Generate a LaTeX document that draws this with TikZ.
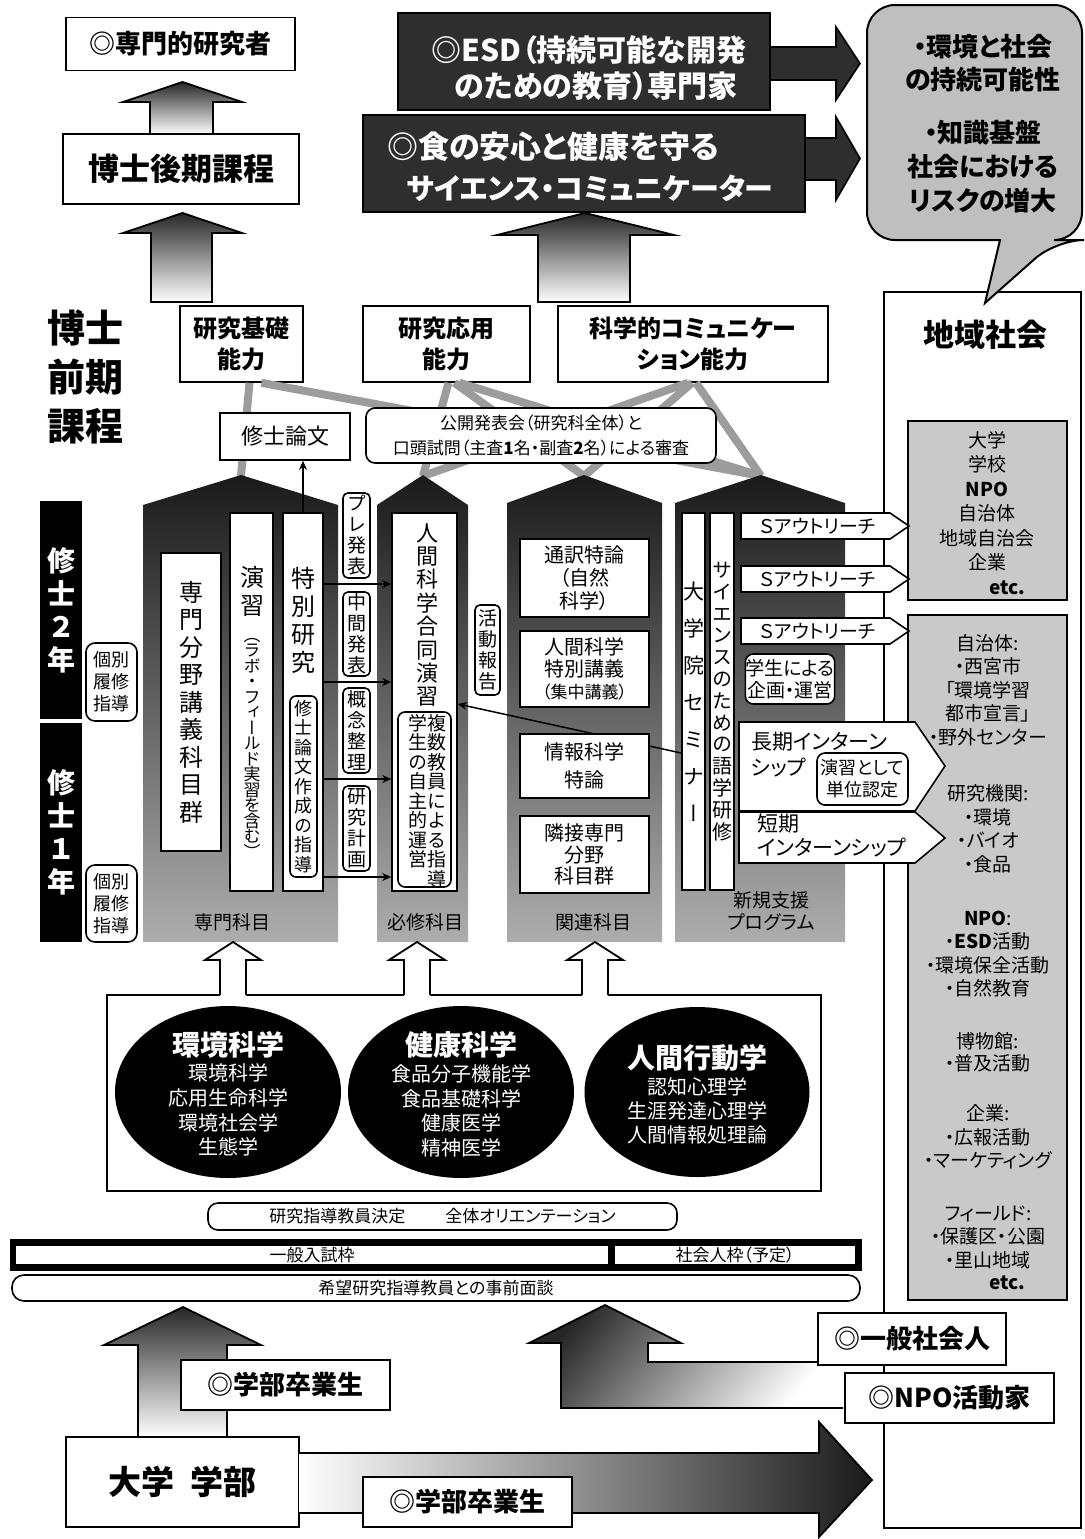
\documentclass[tikz,border=0pt]{standalone}
\usepackage{fontspec}
\setmainfont{Noto Sans CJK JP}[RawFeature=+palt]
\newfontfamily\vf{Noto Sans CJK JP}[RawFeature=+vert]
\usetikzlibrary{arrows.meta,shapes.geometric}
\definecolor{dk}{HTML}{2E2E2E}
\definecolor{bub}{HTML}{BFBFBF}
\definecolor{gb}{HTML}{C9C9C9}
\definecolor{gl}{HTML}{9C9C9C}
\newcommand\fs[2]{\fontsize{#1}{#2}\selectfont}
\makeatletter
\def\vt@end{\vt@end}
\newcommand\vt[2]{\vbox{\baselineskip=#1pt\lineskiplimit=-\maxdimen\lineskip=0pt\vf\vt@loop#2\vt@end}}
\def\vt@loop#1{\ifx#1\vt@end\else\hbox to 1.1em{\hss#1\hss}\expandafter\vt@loop\fi}
\makeatother
\begin{document}
\begin{tikzpicture}[x=1pt,y=-1pt, line join=miter,
 box/.style={draw, line width=1.6pt, fill=white, inner sep=0pt, align=center},
 rbox/.style={box, rounded corners=7pt},
 txt/.style={inner sep=0pt, align=center},
 gline/.style={draw=gl, line width=8pt},
 tarr/.style={-{Stealth[length=9pt,width=8pt]}, line width=1.5pt},
 col/.style={top color=black!90, bottom color=black!32},
 grad/.style={draw=black, line width=1.8pt, top color=black!85, bottom color=white},
 warr/.style={line width=1.8pt}]
\useasboundingbox (0,0) rectangle (1084,1539);
\fill[white] (0,0) rectangle (1084,1539);

% ---------- right column: community ----------
\node[box, line width=2pt, minimum width=197, minimum height=1236] (com) at (982.5,910) {};
\node[txt, font=\fs{31}{36}\bfseries] (comt) at (985,335) {地域社会};
\node[box, fill=gb, minimum width=159, minimum height=179] (g1) at (987.5,510.5) {};
\node[txt, font=\fs{19}{24.5}] (g1t) at (987,501) {大学\\学校\\\textbf{NPO}\\自治体\\地域自治会\\企業};
\node[txt, font=\fs{19}{24}\bfseries] (g1e) at (1007,588) {etc.};
\node[box, fill=gb, minimum width=159, minimum height=685] (g2) at (987.5,957.5) {};
\node[txt, font=\fs{19}{23.5}] (g2a) at (988,690) {自治体:\\・西宮市\\「環境学習\\都市宣言」\\・野外センター};
\node[txt, font=\fs{19}{23.5}] (g2b) at (988,829) {研究機関:\\・環境\\・バイオ\\・食品};
\node[txt, font=\fs{19}{23.5}] (g2c) at (988,954) {\textbf{NPO}:\\・\textbf{ESD}活動\\・環境保全活動\\・自然教育};
\node[txt, font=\fs{19}{22}] (g2d) at (988,1052) {博物館:\\・普及活動};
\node[txt, font=\fs{19}{23.5}] (g2e) at (988,1137) {企業:\\・広報活動\\・マーケティング};
\node[txt, font=\fs{19}{23.5}] (g2f) at (988,1237) {フィールド:\\・保護区・公園\\・里山地域};
\node[txt, font=\fs{19}{24}\bfseries] (g2g) at (1007,1283) {etc.};

% ---------- top ----------
\node[box, minimum width=229, minimum height=53, font=\fs{26}{30}\bfseries] (res) at (180.5,44) {◎専門的研究者};
\shadedraw[grad] (150,134)--(150,102)--(123,102)--(182.5,82)--(242,102)--(213,102)--(213,134)--cycle;
\node[box, minimum width=236, minimum height=70, font=\fs{31}{36}\bfseries] (dc) at (181,169) {博士後期課程};
\shadedraw[grad] (151,302)--(151,233)--(123,233)--(182.5,213)--(242,233)--(212,233)--(212,302)--cycle;
\shadedraw[grad] (538,302)--(538,235)--(497,235)--(585,213)--(674,235)--(630,235)--(630,302)--cycle;

\node[box, fill=dk, line width=2pt, minimum width=372, minimum height=97] (esd) at (584,61.5) {};
\node[txt, text=white, font=\fs{30}{36}\bfseries] (esd1) at (589,50) {◎ESD（持続可能な開発};
\node[txt, text=white, font=\fs{30}{36}\bfseries] (esd2) at (596,86) {のための教育）専門家};
\filldraw[fill=dk, line width=1.6pt] (771,47)--(836,47)--(836,27)--(860,63.5)--(836,100)--(836,80)--(771,80);
\node[box, fill=dk, line width=2pt, minimum width=442, minimum height=97] (food) at (584,163.5) {};
\node[txt, text=white, font=\fs{31}{36}\bfseries] (food1) at (553,147) {◎食の安心と健康を守る};
\node[txt, text=white, font=\fs{29}{36}\bfseries] (food2) at (590,188) {サイエンス・コミュニケーター};
\filldraw[fill=dk, line width=1.6pt] (806,138)--(836,138)--(836,117)--(860,158.5)--(836,200)--(836,180)--(806,180);

% speech bubble
\draw[fill=bub, line width=2pt] (867,120) [rounded corners=28pt] -- (867,5) -- (1082,5) -- (1082,240) -- (1056,240) [sharp corners] -- (985,303) -- (1000,240) [rounded corners=28pt] -- (867,240) -- cycle;
\node[txt, font=\fs{26}{33}\bfseries] (bt1) at (983,63) {・環境と社会\\の持続可能性};
\node[txt, font=\fs{26}{34}\bfseries] (bt2) at (983,167) {・知識基盤\\社会における\\リスクの増大};

% ---------- master course ----------
\node[txt, font=\fs{38}{49}\bfseries] (lbl) at (85,377) {博士\\前期\\課程};
\coordinate (ap1) at (241,476);
\coordinate (ap2) at (423,476);
\coordinate (ap3) at (584,476);
\coordinate (ap4) at (761,476);
\node[box, minimum width=123, minimum height=76, font=\fs{24}{31}\bfseries] (ab1) at (241.5,344) {研究基礎\\能力};
\node[box, minimum width=167, minimum height=76, font=\fs{24}{31}\bfseries] (ab2) at (446.5,344) {研究応用\\能力};
\node[box, minimum width=270, minimum height=76, font=\fs{24}{31}\bfseries] (ab3) at (693,344) {科学的コミュニケー\\ション能力};
\draw[gline] ([xshift=8]ab1.south) -- (ap1);
\draw[gline] ([xshift=20]ab1.south) -- (ap4);
\draw[gline] ([xshift=2]ab2.south) -- (ap2);
\draw[gline] ([xshift=8]ab2.south) -- (ap3);
\draw[gline] ([xshift=13]ab2.south) -- (ap4);
\draw[gline] ([xshift=-5]ab3.south) -- (ap2);
\draw[gline] ([xshift=-1]ab3.south) -- (ap3);
\draw[gline] ([xshift=3]ab3.south) -- (ap4);
\node[box, minimum width=130, minimum height=47, font=\fs{22}{26}] (thesis) at (285,436.5) {修士論文};
\node[rbox, rounded corners=9pt, minimum width=350, minimum height=55, font=\fs{17}{25}] (pub) at (541,435.5) {公開発表会（研究科全体）と\\口頭試問（主査\textbf{1}名・副査\textbf{2}名）による審査};

% columns
\shade[col] (143,942)--(143,505)--(241,475)--(338,505)--(338,942)--cycle;
\shade[col] (377,942)--(377,505)--(423,475)--(468,505)--(468,942)--cycle;
\shade[col] (507,942)--(507,503)--(584,475)--(662,503)--(662,942)--cycle;
\shade[col] (675,942)--(675,503)--(761,475)--(845,503)--(845,942)--cycle;
\node[txt, font=\fs{19}{23}] (c1l) at (232,922) {専門科目};
\node[txt, font=\fs{19}{23}] (c2l) at (425,922) {必修科目};
\node[txt, font=\fs{19}{23}] (c3l) at (593,922) {関連科目};
\node[txt, font=\fs{19}{22}] (c4l) at (771,911) {新規支援\\プログラム};

% column 1
\node[box, minimum width=60, minimum height=298, font=\fs{24}{24}] (senmon) at (191,702) {\vt{27.5}{専門分野講義科目群}};
\node[box, minimum width=43, minimum height=378] (ensh) at (251.5,702) {};
\node[txt, font=\fs{24}{24}] (ensh1) at (252,591) {\vt{28}{演習}};
\node[txt, font=\fs{17}{17}] (ensh2) at (252,748) {\vt{15.5}{（ラボ・フィールド実習を含む）}};
\node[box, minimum width=40, minimum height=378] (tok) at (303,702) {};
\node[txt, font=\fs{24}{24}] (tok1) at (303,620) {\vt{28}{特別研究}};
\node[rbox, rounded corners=6pt, minimum width=27, minimum height=181, font=\fs{18}{18}] (shido) at (303.5,786.5) {\vt{19.5}{修士論文作成の指導}};
\draw[tarr] (tok.north) -- (tok.north |- thesis.south);

% small boxes
\node[rbox, rounded corners=5pt, minimum width=27, minimum height=85, font=\fs{19}{19}] (pre) at (356.5,535.5) {\vt{21}{プレ発表}};
\node[rbox, rounded corners=5pt, minimum width=27, minimum height=84, font=\fs{19}{19}] (mid) at (356.5,634) {\vt{21}{中間発表}};
\node[rbox, rounded corners=5pt, minimum width=27, minimum height=85, font=\fs{19}{19}] (gai) at (356.5,730.5) {\vt{21}{概念整理}};
\node[rbox, rounded corners=5pt, minimum width=27, minimum height=85, font=\fs{19}{19}] (kei) at (356.5,828.5) {\vt{21}{研究計画}};

% column 2
\node[box, minimum width=65, minimum height=378] (hum) at (424.5,702) {};
\node[txt, font=\fs{22}{22}] (hum1) at (427,615) {\vt{23.4}{人間科学合同演習}};
\node[rbox, rounded corners=7pt, minimum width=53, minimum height=175] (fuku) at (424.5,799.5) {};
\node[txt, font=\fs{19}{19}] (fuku1) at (437,801) {\vt{19.5}{複数教員による指導}};
\node[txt, font=\fs{19}{19}] (fuku2) at (418,791) {\vt{19.5}{学生の自主的運営}};
\node[rbox, rounded corners=5pt, minimum width=25, minimum height=90, font=\fs{19}{19}] (katsu) at (487.5,650) {\vt{21}{活動報告}};
\foreach \yy in {584,682,779,877} \draw[tarr] (tok.east |- 0,\yy) -- (hum.west |- 0,\yy);

% column 4
\node[box, minimum width=23, minimum height=377, font=\fs{21}{21}] (sem) at (693.5,701.5) {\vt{37}{大学院セミナー}};
\node[box, minimum width=24, minimum height=377, font=\fs{20}{20}] (lang) at (722,701.5) {\vt{21.8}{サイエンスのための語学研修}};
\foreach \yy/\n in {513/1,566/2,618/3} {
 \filldraw[fill=white, line width=1.6pt] (741,\yy) -- (890,\yy) -- (909,\yy+13) -- (890,\yy+26) -- (741,\yy+26) -- cycle;
 \node[txt, font=\fs{19}{19}] (so\n) at (818,\yy+13) {Ｓアウトリーチ};
}
\node[rbox, rounded corners=8pt, minimum width=88, minimum height=50, font=\fs{19}{22}] (gaku) at (790,679) {学生による\\企画・運営};
\filldraw[fill=white, line width=1.6pt] (739,722)--(915,722)--(945,766)--(915,811)--(739,811)--cycle;
\node[txt, anchor=west, font=\fs{21}{21}] (lt1) at (751,742) {長期インターン};
\node[txt, anchor=west, font=\fs{21}{21}] (lt2) at (751,768) {シップ};
\node[rbox, rounded corners=8pt, minimum width=91, minimum height=52, font=\fs{18}{22}] (tani) at (862.5,779) {演習として\\単位認定};
\filldraw[fill=white, line width=1.6pt] (739,812)--(915,812)--(945,838)--(915,863)--(739,863)--cycle;
\node[txt, anchor=west, font=\fs{21}{21}] (st1) at (757,824) {短期};
\node[txt, anchor=west, font=\fs{21}{21}] (st2) at (757,848) {インターンシップ};
\draw[tarr] ([yshift=-51.5]sem.west) -- ([yshift=-2]hum.east);

% column 3
\node[box, minimum width=129, minimum height=78, font=\fs{20}{23}] (tsu) at (584.5,578) {通訳特論\\（自然\\科学）};
\node[box, minimum width=129, minimum height=76, font=\fs{20}{22}] (ntk) at (584.5,669) {人間科学\\特別講義\\{\fs{17}{20}（集中講義）}};
\node[box, minimum width=129, minimum height=64, font=\fs{20}{28}] (joho) at (584.5,766) {情報科学\\特論};
\node[box, minimum width=129, minimum height=77, font=\fs{20}{21.5}] (rin) at (584.5,854.5) {隣接専門\\分野\\科目群};

% year bars
\node[fill=black, minimum width=42, minimum height=218, inner sep=0pt, text=white, font=\fs{28}{28}\bfseries] (m2) at (61,610) {\vt{33}{修士２年}};
\node[fill=black, minimum width=42, minimum height=219, inner sep=0pt, text=white, font=\fs{28}{28}\bfseries] (m1) at (61,832.5) {\vt{33}{修士１年}};
\node[rbox, rounded corners=9pt, minimum width=51, minimum height=78, font=\fs{18}{22}] (kb2) at (111.5,682) {個別\\履修\\指導};
\node[rbox, rounded corners=9pt, minimum width=51, minimum height=77, font=\fs{18}{22}] (kb1) at (111.5,903.5) {個別\\履修\\指導};

% ---------- fields ----------
\node[box, line width=2pt, minimum width=714, minimum height=196] (big) at (464,1093) {};
\foreach \ax in {233,417,595} {
 \fill[white] (\ax-13,997) -- (\ax-13,960) -- (\ax-28,960) -- (\ax,942) -- (\ax+28,960) -- (\ax+13,960) -- (\ax+13,997) -- cycle;
 \draw[warr] (\ax-13,995) -- (\ax-13,960) -- (\ax-28,960) -- (\ax,942) -- (\ax+28,960) -- (\ax+13,960) -- (\ax+13,995);
}
\node[ellipse, fill=black, inner sep=0pt, minimum width=226, minimum height=172] (e1) at (228,1092) {};
\node[ellipse, fill=black, inner sep=0pt, minimum width=226, minimum height=172] (e2) at (461,1092) {};
\node[ellipse, fill=black, inner sep=0pt, minimum width=225, minimum height=170] (e3) at (697,1092) {};
\node[txt, text=white, font=\fs{28}{32}\bfseries] (e1t) at (228,1045) {環境科学};
\node[txt, text=white, font=\fs{20}{24.7}] (e1l) at (228,1110) {環境科学\\応用生命科学\\環境社会学\\生態学};
\node[txt, text=white, font=\fs{28}{32}\bfseries] (e2t) at (461,1045) {健康科学};
\node[txt, text=white, font=\fs{20}{24.5}] (e2l) at (461,1111) {食品分子機能学\\食品基礎科学\\健康医学\\精神医学};
\node[txt, text=white, font=\fs{28}{32}\bfseries] (e3t) at (697,1058) {人間行動学};
\node[txt, text=white, font=\fs{20}{24}] (e3l) at (697,1111) {認知心理学\\生涯発達心理学\\人間情報処理論};

\node[rbox, rounded corners=10pt, minimum width=469, minimum height=27, font=\fs{17}{20}] (ori) at (442.5,1216.5) {研究指導教員決定\hspace{40pt}全体オリエンテーション};
\node[fill=black, minimum width=852, minimum height=32, inner sep=0pt] (waku) at (436,1255) {};
\node[fill=white, minimum width=592, minimum height=18, inner sep=0pt, font=\fs{17}{17}] (ippan) at (312,1255) {一般入試枠};
\node[fill=white, minimum width=240, minimum height=18, inner sep=0pt, font=\fs{17}{17}] (shakai) at (735,1255) {社会人枠（予定）};
\node[rbox, rounded corners=12pt, minimum width=848, minimum height=26, font=\fs{17}{20}] (men) at (436,1288) {希望研究指導教員との事前面談};

% ---------- bottom ----------
\shadedraw[grad] (138,1437)--(138,1345)--(104,1345)--(183,1307)--(261,1345)--(227,1345)--(227,1437)--cycle;
\node[box, minimum width=233, minimum height=90, font=\fs{33}{36}\bfseries] (dai) at (182.5,1482) {大学\hspace{0.5em}学部};
\node[box, minimum width=209, minimum height=50, font=\fs{26}{30}\bfseries] (sot1) at (285.5,1385) {◎学部卒業生};
\shadedraw[draw=black, line width=1.8pt, left color=white, right color=black!90] (299,1453)--(819,1453)--(819,1422)--(872,1480)--(819,1537)--(819,1513)--(299,1513);
\node[box, minimum width=209, minimum height=50, font=\fs{26}{30}\bfseries] (sot2) at (467.5,1502) {◎学部卒業生};
\shadedraw[draw=black, line width=1.8pt, top color=black!85, bottom color=white, shading angle=50] (843,1362)--(648,1362)--(648,1343)--(681,1343)--(605,1305)--(529,1343)--(561,1343)--(561,1408)--(843,1408);
\node[box, minimum width=188, minimum height=52, font=\fs{26}{30}\bfseries] (soc) at (912,1339) {◎一般社会人};
\node[box, minimum width=209, minimum height=50, font=\fs{26}{30}\bfseries] (npo) at (949.5,1398) {◎NPO活動家};
\end{tikzpicture}
\end{document}
